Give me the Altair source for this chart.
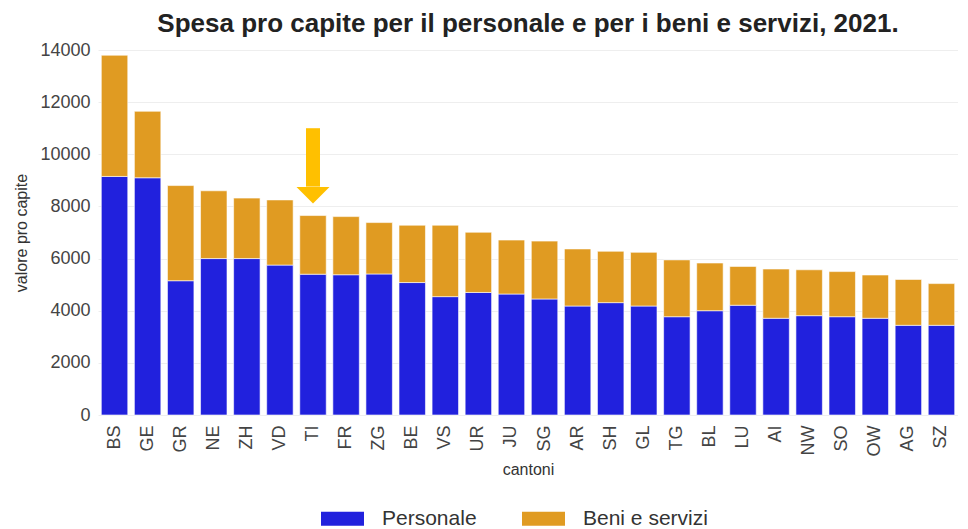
import altair as alt
import pandas as pd

cantoni = ["BS", "GE", "GR", "NE", "ZH", "VD", "TI", "FR", "ZG", "BE", "VS", "UR", "JU",
           "SG", "AR", "SH", "GL", "TG", "BL", "LU", "AI", "NW", "SO", "OW", "AG", "SZ"]
personale = [9150, 9100, 5150, 6000, 6000, 5750, 5400, 5380, 5410, 5080, 4540, 4700, 4640,
             4450, 4180, 4310, 4180, 3770, 4000, 4210, 3710, 3810, 3770, 3710, 3440, 3440]
beni_servizi = [4650, 2550, 3650, 2600, 2320, 2500, 2250, 2230, 1970, 2200, 2740, 2310, 2070,
                2220, 2190, 1970, 2060, 2180, 1830, 1490, 1890, 1760, 1730, 1660, 1760, 1600]
serie = ["Personale", "Beni e servizi"]
colori = ["#2121DD", "#E09B22"]

# arrow marker pointing to TI
freccia_cantone = "TI"
freccia_inizio = 11000
freccia_fine_asta = 8760
freccia_punta = 8430

rows = []
for c, p, b in zip(cantoni, personale, beni_servizi):
    rows.append({"cantone": c, "serie": serie[0], "valore": p, "ord": 0})
    rows.append({"cantone": c, "serie": serie[1], "valore": b, "ord": 1})
df = pd.DataFrame(rows)

x_enc = alt.X("cantone:N", sort=cantoni, title="cantoni",
              scale=alt.Scale(paddingInner=0.2, paddingOuter=0.1),
              axis=alt.Axis(labelAngle=-90, labelFontSize=18, labelColor="#444",
                            titleFontSize=16, titleFontWeight="normal", titleColor="#333",
                            domain=False, ticks=False, labelPadding=10, titlePadding=6))

bars = alt.Chart(df).mark_bar(stroke="white", strokeWidth=0.6).encode(
    x=x_enc,
    y=alt.Y("valore:Q", stack="zero", title="valore pro capite",
            scale=alt.Scale(domain=[0, 14000]),
            axis=alt.Axis(values=[0, 2000, 4000, 6000, 8000, 10000, 12000, 14000],
                          format="d", labelFontSize=18, labelColor="#444",
                          titleFontSize=16, titleFontWeight="normal", titleColor="#333",
                          domain=False, ticks=False, gridColor="#eeeeee",
                          labelPadding=8, titlePadding=10)),
    color=alt.Color("serie:N", scale=alt.Scale(domain=serie, range=colori),
                    legend=alt.Legend(title=None, orient="none", direction="horizontal",
                                      legendX=223, legendY=447,
                                      symbolType="M-1,-0.33L1,-0.33L1,0.33L-1,0.33Z",
                                      symbolSize=1849, symbolStrokeWidth=0,
                                      labelFontSize=21, labelColor="#333",
                                      labelOffset=18, columnPadding=45)),
    order=alt.Order("ord:Q", sort="ascending"),
)

arrow_df = pd.DataFrame([{"cantone": freccia_cantone, "y1": freccia_inizio,
                          "y2": freccia_fine_asta, "yp": freccia_punta}])

shaft = alt.Chart(arrow_df).mark_rule(color="#FFC000", strokeWidth=14, strokeCap="butt").encode(
    x=alt.X("cantone:N", sort=cantoni), y="y1:Q", y2="y2:Q")
head = alt.Chart(arrow_df).mark_point(
    shape="M-1,-0.5L1,-0.5L0,0.5Z", size=1089, filled=True, opacity=1, color="#FFC000"
).encode(x=alt.X("cantone:N", sort=cantoni), y="yp:Q")

chart = alt.layer(bars, shaft, head).properties(
    width=860, height=365,
    padding={"left": 5, "top": 3, "right": 0, "bottom": 0},
    title=alt.TitleParams("Spesa pro capite per il personale e per i beni e servizi, 2021.",
                          fontSize=26, fontWeight="bold", color="#222", anchor="middle",
                          offset=4),
).configure(font="Liberation Sans").configure_view(stroke=None)

chart.save("out.html", embed_options={"renderer": "svg", "actions": False})
